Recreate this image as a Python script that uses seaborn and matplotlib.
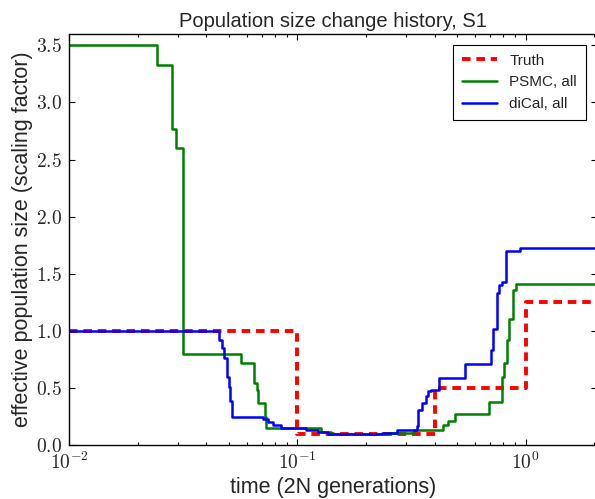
import numpy as np
import pandas as pd
import seaborn as sns
import matplotlib
matplotlib.use("Agg")
import matplotlib.pyplot as plt
from matplotlib.ticker import FuncFormatter, LogLocator

# Step-function histories: each value holds from its time until the next time
truth_t = [0.01, 0.1, 0.4, 1.0, 2.05]
truth_n = [1.0, 0.1, 0.5, 1.25, 1.25]

psmc_t = [0.01, 0.0243, 0.0283, 0.0293, 0.0315, 0.0564, 0.0643, 0.0664, 0.0672,
          0.0719, 0.0726, 0.127, 0.141, 0.25, 0.326, 0.436, 0.458, 0.49, 0.69,
          0.785, 0.806, 0.826, 0.845, 0.877, 0.904, 2.05]
psmc_n = [3.5, 3.33, 2.77, 2.60, 0.80, 0.72, 0.54, 0.48, 0.37,
          0.25, 0.146, 0.117, 0.095, 0.108, 0.13, 0.175, 0.21, 0.275, 0.38,
          0.60, 0.72, 0.92, 1.10, 1.36, 1.41, 1.41]

dical_t = [0.01, 0.0453, 0.0467, 0.0477, 0.049, 0.050, 0.0508, 0.0519, 0.0707,
           0.0743, 0.0782, 0.0851, 0.1095, 0.123, 0.136, 0.204, 0.234, 0.272,
           0.333, 0.338, 0.352, 0.365, 0.374, 0.384, 0.418, 0.542, 0.705, 0.721,
           0.746, 0.764, 0.785, 0.82, 0.945, 2.05]
dical_n = [1.0, 0.92, 0.85, 0.76, 0.60, 0.51, 0.39, 0.25, 0.23,
           0.20, 0.175, 0.146, 0.13, 0.117, 0.096, 0.10, 0.11, 0.13,
           0.167, 0.31, 0.37, 0.43, 0.47, 0.48, 0.59, 0.71, 0.83, 1.02,
           1.33, 1.40, 1.43, 1.70, 1.725, 1.725]

labels = ["Truth", "PSMC, all", "diCal, all"]
y_ticks = [0.0, 0.5, 1.0, 1.5, 2.0, 2.5, 3.0, 3.5]

sns.set_style("ticks")
plt.rcParams["font.family"] = ["Liberation Sans", "DejaVu Sans"]
plt.rcParams["mathtext.fontset"] = "cm"

fig = plt.figure(figsize=(5.95, 4.99), dpi=100)
ax = fig.add_axes([0.116, 0.108, 0.887, 0.824])

series = [
    (truth_t, truth_n, labels[0], "#ff0000", 2.8, (2.2, 1.5)),
    (psmc_t, psmc_n, labels[1], "#008000", 1.8, None),
    (dical_t, dical_n, labels[2], "#0000ff", 1.8, None),
]
for t, n, lab, col, lw, dash in series:
    df = pd.DataFrame({"time": t, "size": n})
    kw = dict(dashes=dash) if dash else {}
    sns.lineplot(data=df, x="time", y="size", ax=ax, color=col, linewidth=lw,
                 drawstyle="steps-post", estimator=None, sort=False,
                 label=lab, **kw)

ax.set_xscale("log")
ax.set_xlim(0.01, 2.05)
ax.set_ylim(0, 3.6)
ax.set_yticks(y_ticks)
ax.yaxis.set_major_formatter(FuncFormatter(lambda v, p: r"$%.1f$" % v))
ax.xaxis.set_major_locator(LogLocator(base=10))
ax.xaxis.set_minor_locator(LogLocator(base=10, subs=np.arange(2, 10)))
ax.xaxis.set_major_formatter(FuncFormatter(lambda v, p: r"$10^{%d}$" % round(np.log10(v))))

ax.tick_params(which="both", direction="in", top=True, right=True, color="black",
               width=0.8)
ax.tick_params(which="major", length=4.5, labelsize=14, pad=5)
ax.tick_params(which="minor", length=2.2)
for s in ax.spines.values():
    s.set_color("black")
    s.set_linewidth(1.0)

ax.set_title("Population size change history, S1", fontsize=14.5, pad=5)
ax.set_xlabel("time (2N generations)", fontsize=15.5, labelpad=3)
ax.set_ylabel("effective population size (scaling factor)", fontsize=15.5, labelpad=2)

leg = ax.legend(loc="upper right", fontsize=11, frameon=True, fancybox=False,
                edgecolor="black", framealpha=1, handlelength=2.3,
                borderaxespad=0.7, borderpad=0.6, labelspacing=0.5)
leg.get_frame().set_linewidth(0.8)

fig.savefig("out.png", dpi=100)
